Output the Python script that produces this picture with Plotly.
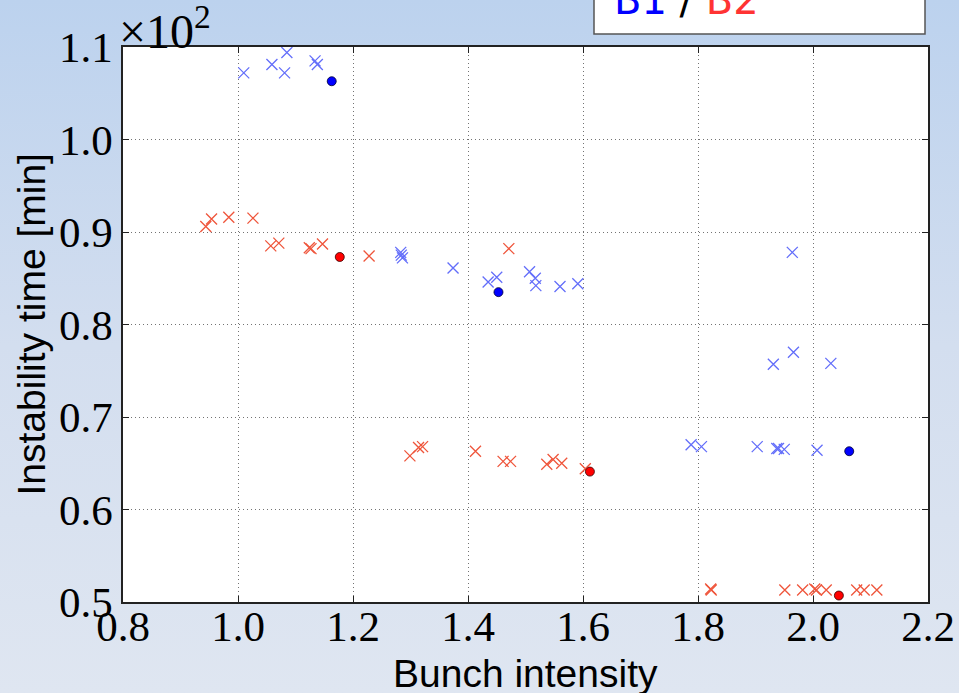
import base64
import plotly.graph_objects as go

# Beam 1 individual bunches: intensity, instability time [min]
b1_x = [1.010, 1.059, 1.085, 1.081, 1.134, 1.138, 1.283, 1.286, 1.284, 1.374,
        1.435, 1.450, 1.507, 1.517, 1.518, 1.560, 1.591, 1.964, 1.966, 1.931,
        2.031, 1.788, 1.806, 1.903, 1.937, 1.940, 1.950, 2.007]
b1_y = [107.2, 108.1, 109.4, 107.2, 108.5, 108.1, 87.8, 87.2, 87.5, 86.1,
        84.6, 85.1, 85.7, 85.0, 84.2, 84.1, 84.4, 87.8, 77.0, 75.7,
        75.8, 67.0, 66.8, 66.8, 66.6, 66.6, 66.5, 66.4]

# Beam 1 averages
b1_avg_x = [1.163, 1.453, 2.063]
b1_avg_y = [106.3, 83.5, 66.3]

# Beam 2 individual bunches
b2_x = [0.944, 0.954, 0.984, 1.026, 1.057, 1.071, 1.124, 1.127, 1.147, 1.228,
        1.471, 1.299, 1.314, 1.321, 1.413, 1.461, 1.474, 1.537, 1.548, 1.563,
        1.604, 1.822, 1.823, 1.951, 1.982, 2.003, 2.006, 2.023, 2.076, 2.089,
        2.111]
b2_y = [90.6, 91.4, 91.6, 91.5, 88.5, 88.8, 88.3, 88.2, 88.7, 87.4,
        88.2, 65.8, 66.7, 66.8, 66.3, 65.2, 65.2, 64.9, 65.4, 65.0,
        64.4, 51.4, 51.3, 51.3, 51.3, 51.4, 51.3, 51.3, 51.3, 51.3,
        51.3]

# Beam 2 averages
b2_avg_x = [1.177, 1.612, 2.045]
b2_avg_y = [87.3, 64.1, 50.7]

x_ticks = [0.8, 1.0, 1.2, 1.4, 1.6, 1.8, 2.0, 2.2]
x_tick_text = ["0.8", "1.0", "1.2", "1.4", "1.6", "1.8", "2.0", "2.2"]
y_ticks = [50, 60, 70, 80, 90, 100, 110]
y_tick_text = ["0.5", "0.6", "0.7", "0.8", "0.9", "1.0", "1.1"]

W, H = 959, 693
ML, MR, MT, MB = 123, 31, 47, 91
PW, PH = W - ML - MR, H - MT - MB


def px_to_paper_x(px):
    return (px - ML) / PW


def px_to_paper_y(py):
    return (H - MB - py) / PH


# slide-style vertical gradient around the axes; the axes area is left
# open (even-odd hole) so the white plot background shows through
frame_path = (
    f"M0 0 H{W} V{H} H0 Z "
    f"M{ML} {MT} H{ML + PW} V{MT + PH} H{ML} Z"
)
svg = (
    f'<svg xmlns="http://www.w3.org/2000/svg" width="{W}" height="{H}" '
    f'viewBox="0 0 {W} {H}" preserveAspectRatio="none">'
    '<defs><linearGradient id="g" gradientUnits="userSpaceOnUse" '
    f'x1="0" y1="0" x2="0" y2="{H}">'
    '<stop offset="0" stop-color="#bcd2ee"/>'
    '<stop offset="0.5" stop-color="#d3deef"/>'
    '<stop offset="1" stop-color="#dfe6f1"/>'
    '</linearGradient></defs>'
    f'<path d="{frame_path}" fill="url(#g)" fill-rule="evenodd"/>'
    '</svg>'
)
bg_uri = "data:image/svg+xml;base64," + base64.b64encode(svg.encode()).decode()

fig = go.Figure()

cross_b1 = dict(symbol="x-thin-open", size=11,
                line=dict(color="rgba(0,0,255,0.5)", width=1.3))
cross_b2 = dict(symbol="x-thin-open", size=11,
                line=dict(color="rgba(255,0,0,0.5)", width=1.3))

fig.add_trace(go.Scatter(x=b1_x, y=b1_y, mode="markers", marker=cross_b1,
                         showlegend=False))
fig.add_trace(go.Scatter(x=b2_x, y=b2_y, mode="markers", marker=cross_b2,
                         showlegend=False))
fig.add_trace(go.Scatter(x=b1_avg_x, y=b1_avg_y, mode="markers",
                         marker=dict(symbol="circle", size=9, color="#0000ff",
                                     line=dict(color="#000033", width=0.8)),
                         showlegend=False))
fig.add_trace(go.Scatter(x=b2_avg_x, y=b2_avg_y, mode="markers",
                         marker=dict(symbol="circle", size=9, color="#ff0000",
                                     line=dict(color="#330000", width=0.8)),
                         showlegend=False))

tick_font = dict(family="Liberation Serif", size=43, color="black")
label_font = dict(family="Liberation Sans", size=39, color="black")

axis_common = dict(
    showline=True, linecolor="#222", linewidth=1.5, mirror="ticks",
    ticks="inside", ticklen=6, tickwidth=1.2, tickcolor="#222",
    showgrid=True, gridcolor="rgba(0,0,0,0.55)", gridwidth=1,
    griddash="1px,3px", zeroline=False, tickfont=tick_font,
    automargin=False,
)

fig.update_xaxes(range=[0.8, 2.2], tickvals=x_ticks, ticktext=x_tick_text,
                 ticklabelstandoff=-14, **axis_common)
fig.update_yaxes(range=[50, 110], tickvals=y_ticks, ticktext=y_tick_text,
                 ticklabelstandoff=0, **axis_common)

annotations = [
    # axis titles
    dict(text="Bunch intensity", xref="paper", yref="paper",
         x=0.5, y=px_to_paper_y(673), xanchor="center", yanchor="middle",
         showarrow=False, font=label_font),
    dict(text="Instability time [min]", xref="paper", yref="paper",
         x=px_to_paper_x(31), y=0.5, xanchor="center", yanchor="middle",
         textangle=-90, showarrow=False, font=label_font),
    # scale offset of the y axis
    dict(text="\u00d710<sup>2</sup>", xref="paper", yref="paper",
         x=px_to_paper_x(117), y=px_to_paper_y(28), xanchor="left",
         yanchor="middle", showarrow=False,
         font=dict(family="Liberation Serif", size=48, color="black")),
    # title box text
    dict(text='<span style="color:#0000ff">B1</span> / '
              '<span style="color:#ff3333">B2</span>',
         xref="paper", yref="paper", x=px_to_paper_x(612),
         y=px_to_paper_y(0), xanchor="left", yanchor="middle",
         showarrow=False,
         font=dict(family="DejaVu Sans", size=40, color="black")),
]

shapes = [
    dict(type="rect", xref="paper", yref="paper",
         x0=px_to_paper_x(594), x1=px_to_paper_x(925),
         y0=px_to_paper_y(34), y1=px_to_paper_y(-20),
         line=dict(color="#555", width=1.5), fillcolor="white", layer="above"),
]

fig.update_layout(
    width=W, height=H,
    margin=dict(l=ML, r=MR, t=MT, b=MB, autoexpand=False),
    paper_bgcolor="#ffffff",
    plot_bgcolor="#ffffff",
    annotations=annotations,
    shapes=shapes,
    images=[
        dict(source=bg_uri, xref="paper", yref="paper",
             x=px_to_paper_x(0), y=px_to_paper_y(0),
             sizex=W / PW, sizey=H / PH, sizing="stretch",
             xanchor="left", yanchor="top", layer="below"),
    ],
)

fig.write_html("out.html")
